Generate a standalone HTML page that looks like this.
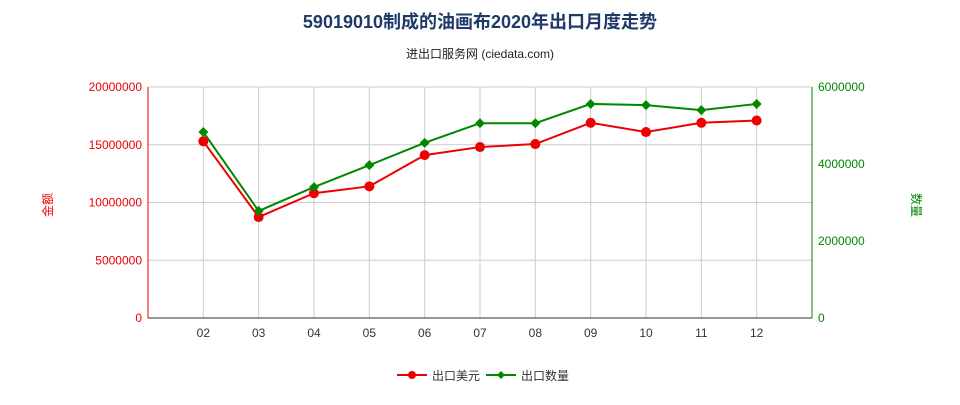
<!DOCTYPE html>
<html><head><meta charset="utf-8"><style>
body{margin:0;background:#fff;width:960px;height:400px;overflow:hidden;font-family:"Liberation Sans","Noto Sans CJK SC",sans-serif}
</style></head><body>
<svg id="c" width="960" height="400" xmlns="http://www.w3.org/2000/svg">
<text x="480" y="28" text-anchor="middle" font-size="18" font-weight="bold" fill="#1f3a68" font-family="Liberation Sans, Noto Sans CJK SC, sans-serif">59019010制成的油画布2020年出口月度走势</text>
<text x="480" y="58" text-anchor="middle" font-size="12" fill="#222" font-family="Liberation Sans, Noto Sans CJK SC, sans-serif">进出口服务网 (ciedata.com)</text>
<text transform="translate(52,205) rotate(-90)" text-anchor="middle" font-size="12" fill="#e00">金额</text>
<text transform="translate(912,205) rotate(90)" text-anchor="middle" font-size="12" fill="#080">数量</text>
<g id="grid"></g><g id="axes"></g><g id="series"></g>
<g>
<g><line x1="397" y1="375" x2="427" y2="375" stroke="#e00" stroke-width="2"/><circle cx="412" cy="375" r="4" fill="#e00"/><text x="432" y="380" font-size="12" fill="#333">出口美元</text></g>
<g><line x1="486" y1="375" x2="516" y2="375" stroke="#080" stroke-width="2"/><path d="M501 371 L505 375 L501 379 L497 375Z" fill="#080"/><text x="521" y="380" font-size="12" fill="#333">出口数量</text></g>
</g>
</svg>
<script>
const categories=["02","03","04","05","06","07","08","09","10","11","12"];
const valueSeries=[15300000,8740000,10800000,11400000,14100000,14800000,15060000,16900000,16100000,16900000,17100000];
const quantitySeries=[4830000,2780000,3400000,3970000,4550000,5060000,5060000,5560000,5530000,5400000,5560000];
const leftTicks=[0,5000000,10000000,15000000,20000000];
const rightTicks=[0,2000000,4000000,6000000];
const NS="http://www.w3.org/2000/svg";
const L=148,R=812,T=87,B=318;
const step=(R-L)/(categories.length+1);
const x=i=>L+(i+1)*step;
const yL=v=>B-(B-T)*v/20000000;
const yR=v=>B-(B-T)*v/6000000;
function mk(tag,attrs,parent){const e=document.createElementNS(NS,tag);for(const k in attrs)e.setAttribute(k,attrs[k]);parent.appendChild(e);return e;}
const grid=document.getElementById('grid'),axes=document.getElementById('axes'),ser=document.getElementById('series');
leftTicks.forEach(t=>{
 const g=mk('line',{x1:L,x2:R,y1:yL(t),y2:yL(t),stroke:'#ccc','stroke-width':1},grid);
 
 
 const tx=mk('text',{x:L-6,y:yL(t)+4,'text-anchor':'end','font-size':12,fill:'#e00'},axes);
 tx.textContent=t;
 
 
});
rightTicks.forEach(t=>{
 const tx=mk('text',{x:R+6,y:yR(t)+4,'font-size':12,fill:'#080'},axes);
 tx.textContent=t;
 
 
});
for(let i=0;i<=categories.length+1;i++){
 const g=mk('line',{x1:L+i*step,x2:L+i*step,y1:T,y2:B,stroke:'#ccc','stroke-width':1},grid);
 
 
}
categories.forEach((c,i)=>{
 const tx=mk('text',{x:x(i),y:B+19,'text-anchor':'middle','font-size':12,fill:'#333'},axes);
 tx.textContent=c;
 
 
});
let a=mk('line',{x1:L,x2:L,y1:T,y2:B,stroke:'#e00'},axes);


a=mk('line',{x1:R,x2:R,y1:T,y2:B,stroke:'#080'},axes);


a=mk('line',{x1:L,x2:R,y1:B,y2:B,stroke:'#333'},axes);


let p=mk('polyline',{points:valueSeries.map((v,i)=>x(i)+','+yL(v)).join(' '),fill:'none',stroke:'#e00','stroke-width':2},ser);


p=mk('polyline',{points:quantitySeries.map((v,i)=>x(i)+','+yR(v)).join(' '),fill:'none',stroke:'#080','stroke-width':2},ser);


valueSeries.forEach((v,i)=>{
 const c=mk('circle',{cx:x(i),cy:yL(v),r:5,fill:'#e00'},ser);
 
 
});
quantitySeries.forEach((v,i)=>{
 const X=x(i),Y=yR(v);
 const d=mk('path',{d:`M${X} ${Y-5}L${X+5} ${Y}L${X} ${Y+5}L${X-5} ${Y}Z`,fill:'#080'},ser);
 
 
});
</script>
</body></html>
